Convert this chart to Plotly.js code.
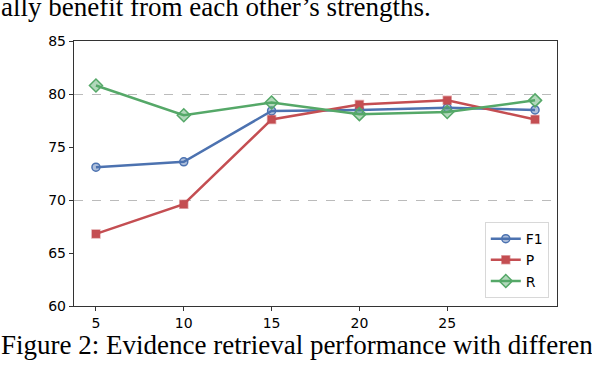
<!DOCTYPE html>
<html>
<head>
<meta charset="utf-8">
<script src="https://cdn.plot.ly/plotly-3.0.1.min.js"></script>
<style>html,body{margin:0;padding:0;background:#fff;}#chart{width:592px;height:370px;}</style>
</head>
<body>
<div id="chart"></div>
<script>
const kValues = [5, 10, 15, 20, 25, 30];
const xTicks = [5, 10, 15, 20, 25];
const yTicks = [60, 65, 70, 75, 80, 85];
const gridTicks = [70, 80];
const f1Values = [73.1, 73.6, 78.4, 78.5, 78.7, 78.5];
const pValues = [66.8, 69.6, 77.6, 79.0, 79.4, 77.6];
const rValues = [80.8, 78.0, 79.2, 78.1, 78.3, 79.4];
const seriesNames = ['F1', 'P', 'R'];
const topText = 'ally benefit from each other’s strengths.';
const captionText = 'Figure 2: Evidence retrieval performance with different';

const blue = '#4c72b0', red = '#c44e52', green = '#55a868';

const traces = [
  {x: kValues, y: f1Values, name: seriesNames[0], mode: 'lines+markers',
   line: {color: blue, width: 2.5},
   marker: {symbol: 'circle', size: 8, color: 'rgba(76,114,176,0.45)', line: {color: blue, width: 1.5}}},
  {x: kValues, y: pValues, name: seriesNames[1], mode: 'lines+markers',
   line: {color: red, width: 2.5},
   marker: {symbol: 'square', size: 8, color: red, line: {color: 'rgba(196,78,82,0.45)', width: 1.5}}},
  {x: kValues, y: rValues, name: seriesNames[2], mode: 'lines+markers',
   line: {color: green, width: 2.5},
   marker: {symbol: 'diamond', size: 10, color: 'rgba(85,168,104,0.45)', line: {color: green, width: 1.5}}}
];

const tickFont = {family: 'DejaVu Sans', size: 14, color: '#000'};
const layout = {
  width: 592, height: 370,
  margin: {l: 74, r: 35, t: 41, b: 64},
  paper_bgcolor: '#fff', plot_bgcolor: '#fff',
  showlegend: true,
  xaxis: {range: [3.75, 31.25], tickvals: xTicks, ticktext: xTicks.map(String),
    showgrid: false, zeroline: false, showline: true, mirror: true,
    linecolor: '#333', linewidth: 1.2, ticks: 'outside', ticklen: 4, tickcolor: '#333',
    tickfont: tickFont},
  yaxis: {range: [60, 85], tickvals: yTicks, ticktext: yTicks.map(String),
    showgrid: false, zeroline: false, showline: true, mirror: true,
    linecolor: '#333', linewidth: 1.2, ticks: 'outside', ticklen: 4, tickcolor: '#333',
    tickfont: tickFont},
  yaxis2: {overlaying: 'y', matches: 'y', range: [60, 85], tickvals: gridTicks,
    showticklabels: false, ticks: '', showgrid: true, gridcolor: '#bbbbbb', griddash: 'dash',
    gridwidth: 1, zeroline: false, showline: false},
  legend: {x: 0.983, xanchor: 'right', y: 0.03, yanchor: 'bottom',
    bordercolor: '#d8d8d8', borderwidth: 1, bgcolor: '#fff',
    font: {family: 'DejaVu Sans', size: 14, color: '#000'}},
  annotations: [
    {xref: 'paper', yref: 'paper', x: -0.155, y: 1.128, xanchor: 'left', yanchor: 'middle',
     text: topText, showarrow: false, font: {family: 'Liberation Serif', size: 27, color: '#000'}},
    {xref: 'paper', yref: 'paper', x: -0.155, y: -0.148, xanchor: 'left', yanchor: 'middle',
     text: captionText, showarrow: false, font: {family: 'Liberation Serif', size: 27, color: '#000'}}
  ]
};

const gridTrace = {x: [kValues[0]], y: [f1Values[0]], yaxis: 'y2', mode: 'markers',
  marker: {opacity: 0}, showlegend: false, hoverinfo: 'skip'};

Plotly.newPlot('chart', [gridTrace].concat(traces), layout, {displayModeBar: false, staticPlot: true});
</script>
</body>
</html>
